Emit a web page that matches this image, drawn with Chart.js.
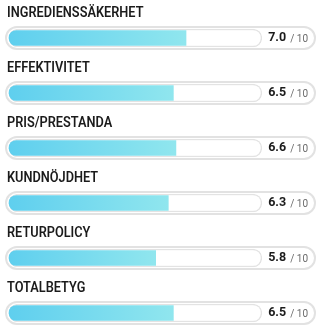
<!DOCTYPE html>
<html>
<head>
<meta charset="utf-8">
<script src="https://cdn.jsdelivr.net/npm/chart.js@4"></script>
<style>html,body{margin:0;padding:0;background:#fff;}#wrap{width:321px;height:330px;}</style>
</head>
<body>
<div id="wrap"><canvas id="c" width="321" height="330"></canvas></div>
<script>
const categories = ["INGREDIENSSÄKERHET","EFFEKTIVITET","PRIS/PRESTANDA","KUNDNÖJDHET","RETURPOLICY","TOTALBETYG"];
const scores = [7.0, 6.5, 6.6, 6.3, 5.8, 6.5];
const maxScore = 10;
const trackValues = categories.map(() => maxScore);

const decor = {
  id: 'decor',
  beforeDatasetsDraw(chart) {
    const {ctx, chartArea, scales} = chart;
    ctx.save();
    categories.forEach((cat, i) => {
      const y = scales.y.getPixelForValue(i);
      const x0 = chartArea.left - 3, x1 = chartArea.right, h = 22;
      ctx.beginPath();
      ctx.roundRect(x0, y - h/2, x1 - x0, h, h/2);
      ctx.fillStyle = '#ffffff';
      ctx.fill();
      ctx.lineWidth = 2;
      ctx.strokeStyle = '#e2e2e2';
      ctx.stroke();
    });
    ctx.restore();
  },
  afterDatasetsDraw(chart) {
    const {ctx, chartArea, scales} = chart;
    categories.forEach((cat, i) => {
      const y = scales.y.getPixelForValue(i);
      ctx.save();
      ctx.textBaseline = 'middle';
      ctx.textAlign = 'left';
      ctx.fillStyle = '#1b1b1b';
      ctx.font = '600 15px Roboto';
      ctx.translate(chartArea.left - 2, y - 25);
      ctx.scale(0.85, 1);
      ctx.fillText(cat, 0, 0);
      ctx.restore();
      ctx.save();
      const xr = chartArea.right - 7;
      ctx.textBaseline = 'middle';
      ctx.textAlign = 'right';
      ctx.font = '10px Roboto';
      ctx.fillStyle = '#6a6a6a';
      const tail = '/ ' + maxScore;
      ctx.fillText(tail, xr, y + 1);
      const tw = ctx.measureText(tail).width;
      ctx.font = 'bold 12.5px Roboto';
      ctx.fillStyle = '#1b1b1b';
      ctx.fillText(scores[i].toFixed(1), xr - tw - 4, y);
      ctx.restore();
    });
  }
};

function fillGradient(context) {
  const chart = context.chart;
  const {ctx, chartArea, scales} = chart;
  if (!chartArea || !scales.x) return '#6fd6ee';
  const v = context.raw;
  const x0 = scales.x.getPixelForValue(0);
  const x1 = scales.x.getPixelForValue(v);
  const g = ctx.createLinearGradient(x0, 0, x1, 0);
  g.addColorStop(0, '#5fcfee');
  g.addColorStop(1, '#90e6ee');
  return g;
}

new Chart(document.getElementById('c'), {
  type: 'bar',
  data: {
    labels: categories,
    datasets: [
      {
        label: 'score',
        data: scores,
        backgroundColor: fillGradient,
        borderWidth: 0,
        borderRadius: {topLeft: 8, bottomLeft: 8, topRight: 0, bottomRight: 0},
        borderSkipped: false,
        barThickness: 15,
        grouped: false,
        order: 0,
        clip: false
      },
      {
        label: 'track',
        data: trackValues,
        backgroundColor: '#ffffff',
        borderColor: '#e3e3e3',
        borderWidth: 1.5,
        borderRadius: 9,
        borderSkipped: false,
        barThickness: 18,
        grouped: false,
        order: 1,
        clip: false
      }
    ]
  },
  options: {
    indexAxis: 'y',
    responsive: false,
    animation: false,
    layout: {padding: {left: 9, right: 6, top: 38, bottom: 17}},
    scales: {
      x: {min: 0, max: 12.1, display: false},
      y: {type: 'category', offset: false, display: false}
    },
    plugins: {legend: {display: false}, tooltip: {enabled: false}}
  },
  plugins: [decor]
});
</script>
</body>
</html>
